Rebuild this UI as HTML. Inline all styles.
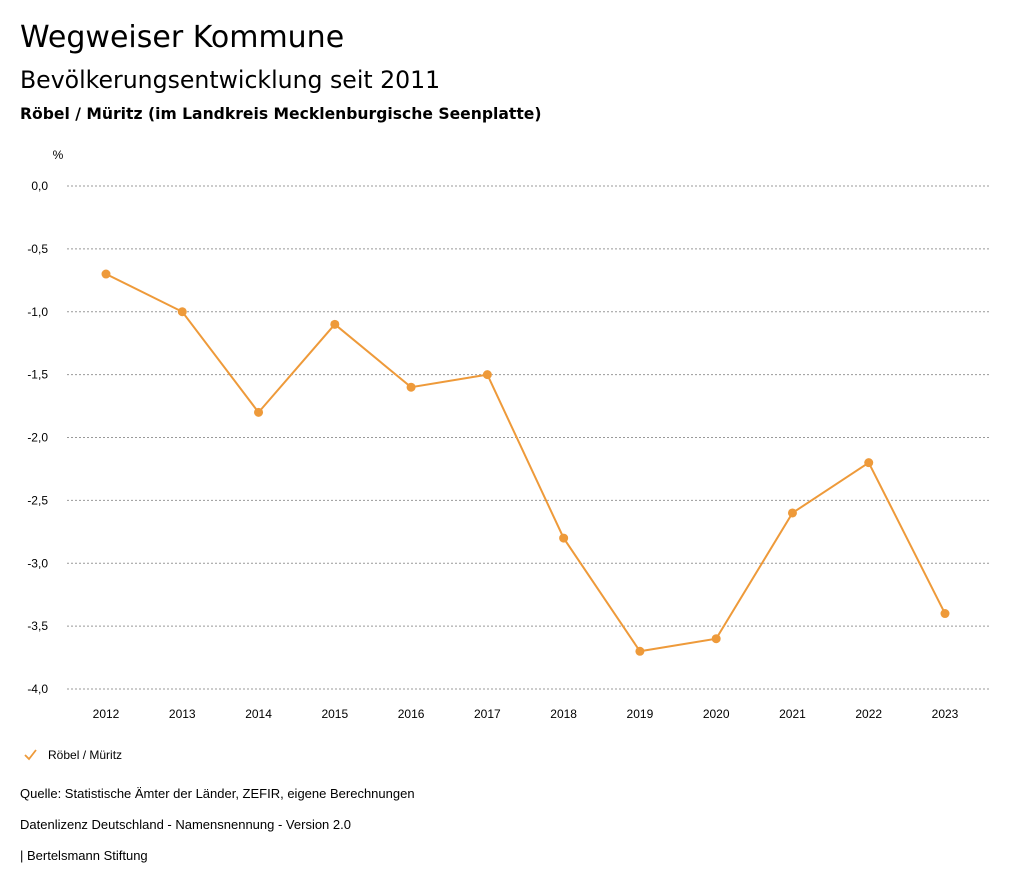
<!DOCTYPE html>
<html><head><meta charset="utf-8"><style>
body{margin:0;background:#fff;font-family:"Liberation Sans",sans-serif;color:#000}
#wrap{position:relative;width:1024px;height:888px;overflow:hidden}
.t{position:absolute;left:20px;white-space:nowrap}
.h{font-family:"DejaVu Sans","Liberation Sans",sans-serif}
</style></head><body><div id="wrap">
<div class="t h" style="top:20px;font-size:30px">Wegweiser Kommune</div>
<div class="t h" style="top:66px;font-size:23.6px">Bevölkerungsentwicklung seit 2011</div>
<div class="t h" style="top:105px;font-size:15.6px;font-weight:bold">Röbel / Müritz (im Landkreis Mecklenburgische Seenplatte)</div>
<svg id="chart" width="1024" height="888" style="position:absolute;left:0;top:0" font-family="Liberation Sans, sans-serif"></svg>
<div class="t" style="top:786px;font-size:13px">Quelle: Statistische Ämter der Länder, ZEFIR, eigene Berechnungen</div>
<div class="t" style="top:817px;font-size:13px">Datenlizenz Deutschland - Namensnennung - Version 2.0</div>
<div class="t" style="top:848px;font-size:13px">| Bertelsmann Stiftung</div>
</div>
<script>
const years=["2012","2013","2014","2015","2016","2017","2018","2019","2020","2021","2022","2023"];
const values=[-0.7,-1.0,-1.8,-1.1,-1.6,-1.5,-2.8,-3.7,-3.6,-2.6,-2.2,-3.4];
const yTicks=[0,-0.5,-1,-1.5,-2,-2.5,-3,-3.5,-4];
const yTickLabels=["0,0","-0,5","-1,0","-1,5","-2,0","-2,5","-3,0","-3,5","-4,0"];
const NS="http://www.w3.org/2000/svg",svg=document.getElementById("chart");
const y=v=>186+(0-v)/4*503;
const x=i=>106+i*(945-106)/(years.length-1);
function mk(t,a,p){const e=document.createElementNS(NS,t);for(const k in a)e.setAttribute(k,a[k]);(p||svg).appendChild(e);return e;}
let u=mk("text",{x:58,y:159,"font-size":12,"text-anchor":"middle"});u.textContent="%";


yTicks.forEach((v,i)=>{
 const g=mk("line",{x1:67,x2:990,y1:y(v),y2:y(v),stroke:"#999","stroke-dasharray":"2,2","stroke-width":1});
 
 
 const t=mk("text",{x:48,y:y(v)+4,"font-size":12,"text-anchor":"end"});t.textContent=yTickLabels[i];
 
 
});
years.forEach((yr,i)=>{
 const t=mk("text",{x:x(i),y:718,"font-size":12,"text-anchor":"middle"});t.textContent=yr;
 
 
});
const pl=mk("polyline",{points:values.map((v,i)=>x(i)+","+y(v)).join(" "),fill:"none",stroke:"#ee9a3a","stroke-width":2});


values.forEach((v,i)=>{
 const c=mk("circle",{cx:x(i),cy:y(v),r:4.5,fill:"#ee9a3a"});
 
 
});
const lg=mk("g",{});


mk("polyline",{points:"25,755 29,759 36,750",fill:"none",stroke:"#ee9a3a","stroke-width":1.8},lg);
const lt=mk("text",{x:48,y:759,"font-size":12},lg);lt.textContent="Röbel / Müritz";
</script></body></html>
